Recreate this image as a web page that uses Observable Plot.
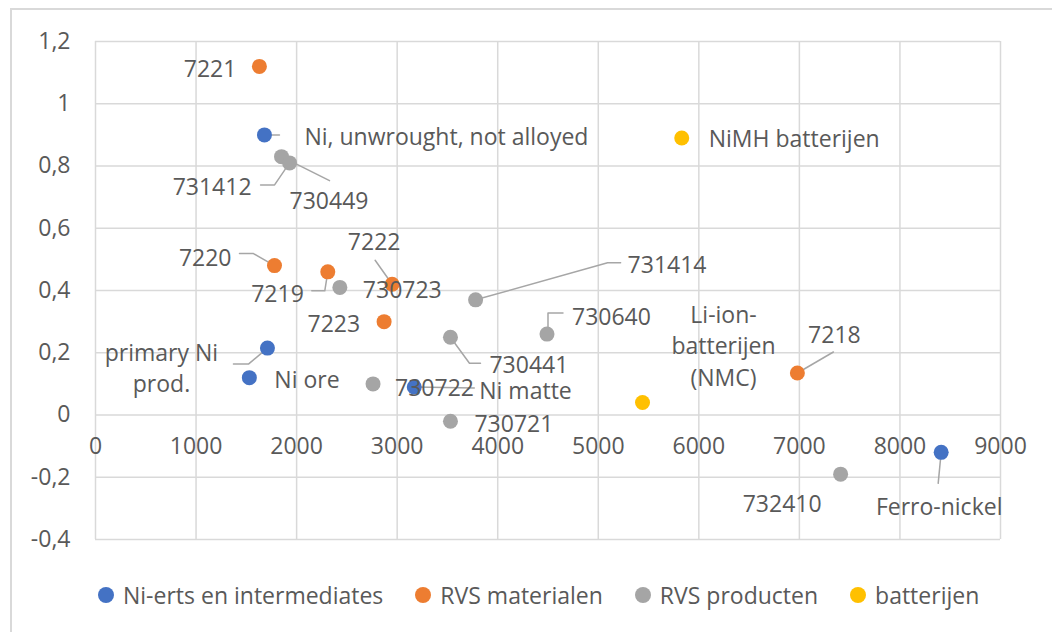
<!DOCTYPE html>
<html>
<head>
<meta charset="utf-8">
<script src="https://cdn.jsdelivr.net/npm/d3@7"></script>
<script src="https://cdn.jsdelivr.net/npm/@observablehq/plot@0.6"></script>
<style>
  html, body { margin: 0; padding: 0; background: #fff; }
  #wrap { position: relative; width: 1052px; height: 632px; overflow: hidden; font-family: "Open Sans", sans-serif; }
  #frame { position: absolute; left: 10px; top: 8px; right: -10px; bottom: -10px; border-left: 2px solid #D9D9D9; border-top: 2px solid #D9D9D9; pointer-events: none; }
  #legend { display: flex; align-items: center; margin-top: 12px; padding-left: 98px; height: 26px; font-size: 23px; color: #595959; white-space: nowrap; }
  .item { display: flex; align-items: center; margin-right: 32px; }
  .sw { width: 16px; height: 16px; border-radius: 50%; margin-right: 9px; }
</style>
</head>
<body>
<div id="wrap"><div id="chart"></div><div id="legend"></div><div id="frame"></div></div>
<script>
// ---- data ----
const seriesNames = ["Ni-erts en intermediates", "RVS materialen", "RVS producten", "batterijen"];
const seriesColors = ["#4472C4", "#ED7D31", "#A5A5A5", "#FFC000"];

const pointNames = ["7221", "Ni, unwrought, not alloyed", "730449", "731412", "7220", "7219", "730723", "7222", "7223",
  "primary Ni prod.", "Ni ore", "730722", "Ni matte", "730441", "730721", "731414", "730640",
  "Li-ion-batterijen (NMC)", "NiMH batterijen", "7218", "732410", "Ferro-nickel"];
const pointLabels = ["7221", "Ni, unwrought, not alloyed", "730449", "731412", "7220", "7219", "730723", "7222", "7223",
  "primary Ni\nprod.", "Ni ore", "730722", "Ni matte", "730441", "730721", "731414", "730640",
  "Li-ion-\nbatterijen\n(NMC)", "NiMH batterijen", "7218", "732410", "Ferro-nickel"];
const xValues = [1630, 1680, 1850, 1930, 1780, 2310, 2430, 2950, 2870,
  1710, 1530, 2760, 3170, 3530, 3530, 3780, 4490,
  5440, 5830, 6980, 7410, 8410];
const yValues = [1.12, 0.90, 0.83, 0.81, 0.48, 0.46, 0.41, 0.42, 0.30,
  0.215, 0.12, 0.10, 0.09, 0.25, -0.02, 0.37, 0.26,
  0.04, 0.89, 0.135, -0.19, -0.12];
const pointSeries = ["RVS materialen", "Ni-erts en intermediates", "RVS producten", "RVS producten", "RVS materialen", "RVS materialen", "RVS producten", "RVS materialen", "RVS materialen",
  "Ni-erts en intermediates", "Ni-erts en intermediates", "RVS producten", "Ni-erts en intermediates", "RVS producten", "RVS producten", "RVS producten", "RVS producten",
  "batterijen", "batterijen", "RVS materialen", "RVS producten", "Ni-erts en intermediates"];

const xTicks = [0, 1000, 2000, 3000, 4000, 5000, 6000, 7000, 8000, 9000];
const yTicks = [-0.4, -0.2, 0, 0.2, 0.4, 0.6, 0.8, 1, 1.2];

// ---- label layout (pixel offsets from the point) ----
const labelLayout = {
  "7221": {dx: -23, dy: 1, anchor: "end"},
  "Ni, unwrought, not alloyed": {dx: 40, dy: 0, anchor: "start", leader: [[0, 0], [15, 0]]},
  "730449": {dx: 8, dy: 42, anchor: "start", leader: [[0, 0], [48, 24]]},
  "731412": {dx: -38, dy: 22, anchor: "end", leader: [[-29, 22], [-15, 22], [0, 0]]},
  "7220": {dx: -43, dy: -10, anchor: "end", leader: [[-35, -12], [-21, -12], [0, 0]]},
  "7219": {dx: -24, dy: 20, anchor: "end", leader: [[-16, 19], [-3, 19], [0, 0]]},
  "730723": {dx: 23, dy: 1, anchor: "start"},
  "7222": {dx: -18, dy: -44, anchor: "middle", leader: [[-17, -24], [0, 0]]},
  "7223": {dx: -24, dy: 0, anchor: "end"},
  "primary Ni prod.": {dx: -106, dy: 18, anchor: "middle", leader: [[-34, 16], [-19, 16], [0, 0]]},
  "Ni ore": {dx: 25, dy: 0, anchor: "start"},
  "730722": {dx: 22, dy: 2, anchor: "start"},
  "Ni matte": {dx: 65, dy: 2, anchor: "start", leader: [[0, 0], [60, 1]]},
  "730441": {dx: 39, dy: 26, anchor: "start", leader: [[0, 0], [19, 26], [30, 26]]},
  "730721": {dx: 24, dy: 1, anchor: "start"},
  "731414": {dx: 152, dy: -37, anchor: "start", leader: [[0, 0], [132, -37], [145, -37]]},
  "730640": {dx: 25, dy: -19, anchor: "start", leader: [[1, 0], [1, -21], [16, -21]]},
  "Li-ion-batterijen (NMC)": {dx: 81, dy: -58, anchor: "middle"},
  "NiMH batterijen": {dx: 27, dy: -1, anchor: "start"},
  "7218": {dx: 37, dy: -40, anchor: "middle", leader: [[0, 0], [36, -21]]},
  "732410": {dx: -19, dy: 28, anchor: "end"},
  "Ferro-nickel": {dx: -2, dy: 53, anchor: "middle", leader: [[0, 0], [-3, 31]]}
};

const W = 1052, H = 570, mL = 95, mR = 52, mT = 41, mB = 31;
const xDomain = [0, 9000], yDomain = [-0.4, 1.2];
const kx = (xDomain[1] - xDomain[0]) / (W - mL - mR);
const ky = (yDomain[1] - yDomain[0]) / (H - mT - mB);

const points = pointNames.map((n, i) => ({name: n, label: pointLabels[i], x: xValues[i], y: yValues[i], series: pointSeries[i]}));

const leaderPts = [];
points.forEach(p => {
  const L = labelLayout[p.name];
  if (L && L.leader) L.leader.forEach(([ox, oy]) => leaderPts.push({id: p.name, x: p.x + ox * kx, y: p.y - oy * ky}));
});

const fmt = d => String(+d.toFixed(1)).replace(".", ",");
const textColor = "#595959";
const fs = 23;

const labelMarks = points.map(p => {
  const L = labelLayout[p.name];
  return Plot.text([p], {x: "x", y: "y", text: "label", dx: L.dx, dy: L.dy, textAnchor: L.anchor,
    lineAnchor: "middle", lineHeight: 1.35, fill: textColor, fontSize: fs});
});

const chart = Plot.plot({
  width: W, height: H, marginLeft: mL, marginRight: mR, marginTop: mT, marginBottom: mB,
  style: {fontFamily: "'Open Sans', sans-serif", fontSize: fs + "px", color: textColor, background: "transparent"},
  x: {domain: xDomain, axis: null},
  y: {domain: yDomain},
  color: {domain: seriesNames, range: seriesColors},
  marks: [
    Plot.gridX(xTicks, {stroke: "#D9D9D9", strokeOpacity: 1, strokeWidth: 1.5}),
    Plot.gridY(yTicks, {stroke: "#D9D9D9", strokeOpacity: 1, strokeWidth: 1.5}),
    Plot.axisY(yTicks, {tickSize: 0, tickPadding: 25, tickFormat: fmt, fontSize: fs, fill: textColor, label: null}),
    Plot.text(xTicks, {x: d => d, y: () => 0, text: d => String(d), dy: 32, lineAnchor: "middle", fill: textColor, fontSize: fs}),
    Plot.line(leaderPts, {x: "x", y: "y", z: "id", stroke: "#A6A6A6", strokeWidth: 1.5}),
    Plot.dot(points, {x: "x", y: "y", r: 7.5, fill: "series", stroke: null}),
    ...labelMarks
  ]
});
document.getElementById("chart").appendChild(chart);

const legend = document.getElementById("legend");
seriesNames.forEach((n, i) => {
  const it = document.createElement("div");
  it.className = "item";
  const sw = document.createElement("span");
  sw.className = "sw";
  sw.style.background = seriesColors[i];
  const t = document.createElement("span");
  t.textContent = n;
  it.appendChild(sw); it.appendChild(t);
  legend.appendChild(it);
});
</script>
</body>
</html>
